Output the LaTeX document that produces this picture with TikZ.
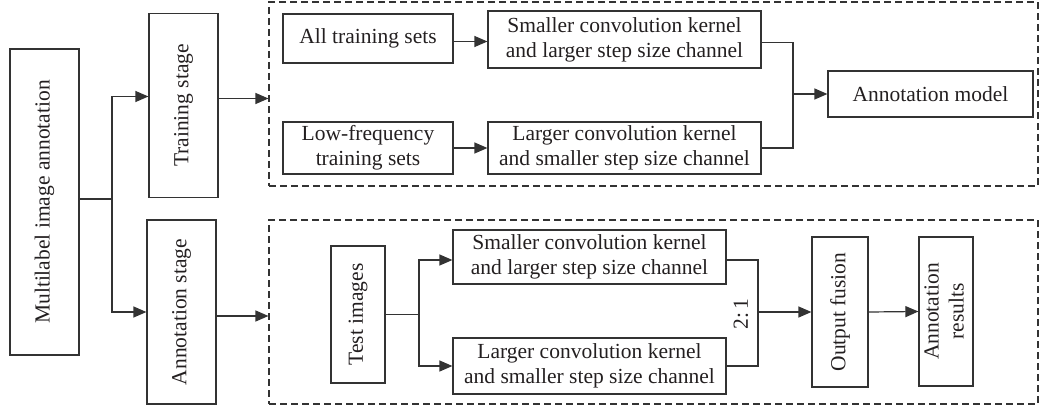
\documentclass[tikz,border=0pt]{standalone}
\usepackage{fontspec}
\setmainfont{Liberation Serif}
\usetikzlibrary{arrows.meta}
\definecolor{lc}{HTML}{333333}
\definecolor{tc}{HTML}{231F20}
\begin{document}
\begin{tikzpicture}[x=1pt,y=-1pt,
  every node/.style={font=\fontsize{21.5}{25}\selectfont, text=tc},
  box/.style={draw=lc, line width=1.2pt, inner sep=0pt, align=center},
  dbox/.style={draw=lc, line width=1.1pt, dash pattern=on 7pt off 4pt, inner sep=0pt, minimum width=769pt, minimum height=184pt},
  conn/.style={draw=lc, line width=1.2pt},
  arr/.style={conn, -{Triangle[length=13pt,width=11pt]}}]
\useasboundingbox (0,0) rectangle (1041,409);
% left column
\node[box, minimum width=69pt, minimum height=306pt] (ml) at (44.5,202) {\rotatebox{90}{Multilabel image annotation}};
\node[box, minimum width=69pt, minimum height=184pt] (ts) at (183.5,105.5) {\rotatebox{90}{Training stage}};
\node[box, minimum width=69pt, minimum height=184pt] (as) at (181.5,312) {\rotatebox{90}{Annotation stage}};
% dashed regions
\node[dbox] (tbox) at (653.5,94) {};
\node[dbox] (bbox) at (653.5,312) {};
% training contents
\node[box, minimum width=170pt, minimum height=49pt] (all) at (368,38.5) {All training sets};
\node[box, minimum width=273pt, minimum height=57pt] (sc1) at (624.5,39.5) {Smaller convolution kernel\\and larger step size channel};
\node[box, minimum width=170pt, minimum height=52pt] (lf) at (368,148) {Low-frequency\\training sets};
\node[box, minimum width=273pt, minimum height=52pt] (lc1) at (624.5,148) {Larger convolution kernel\\and smaller step size channel};
\node[box, minimum width=205pt, minimum height=46pt] (am) at (930.5,94) {Annotation model};
% annotation contents
\node[box, minimum width=54pt, minimum height=137pt] (ti) at (358,314.5) {\rotatebox{90}{Test images}};
\node[box, minimum width=273pt, minimum height=54pt] (sc2) at (589.5,257) {Smaller convolution kernel\\and larger step size channel};
\node[box, minimum width=273pt, minimum height=56pt] (lc2) at (589.5,366) {Larger convolution kernel\\and smaller step size channel};
\node[box, minimum width=56pt, minimum height=150pt] (of) at (840,312) {\rotatebox{90}{Output fusion}};
\node[box, minimum width=54pt, minimum height=149pt] (ar) at (946,311.5) {\rotatebox{90}{\begin{tabular}{@{}c@{}}Annotation\\results\end{tabular}}};
\node[rotate=90] (ratio) at (741,314) {2:\,1};
% junctions
\coordinate (j1) at (112,199);
\coordinate (m1) at (793,94);
\coordinate (j2) at (419,314.5);
\coordinate (m2) at (758,312);
% connectors
\draw[conn] (ml.east |- j1) -- (j1);
\draw[arr] (j1) |- ([yshift=9pt]ts.west);
\draw[arr] (j1) |- (as.west);
\draw[arr] ([yshift=7pt]ts.east) -- ([yshift=7pt]ts.east -| tbox.west);
\draw[arr] ([yshift=-4pt]as.east) -- ([yshift=-4pt]as.east -| bbox.west);
\draw[arr] ([yshift=-3pt]all.east) -- ([yshift=-3pt]all.east -| sc1.west);
\draw[arr] (lf.east) -- (lc1.west);
\draw[conn] ([yshift=-3pt]sc1.east) -| (m1 |- lc1.east) -- (lc1.east);
\draw[arr] (m1) -- (am.west);
\draw[conn] (ti.east) -- (j2);
\draw[arr] (j2) |- ([yshift=-3pt]sc2.west);
\draw[arr] (j2) |- (lc2.west);
\draw[conn] ([yshift=-3pt]sc2.east) -| (m2 |- lc2.east) -- (lc2.east);
\draw[arr] (m2) -- (of.west);
\draw[arr] (of.east) -- (ar.west);
\end{tikzpicture}
\end{document}
